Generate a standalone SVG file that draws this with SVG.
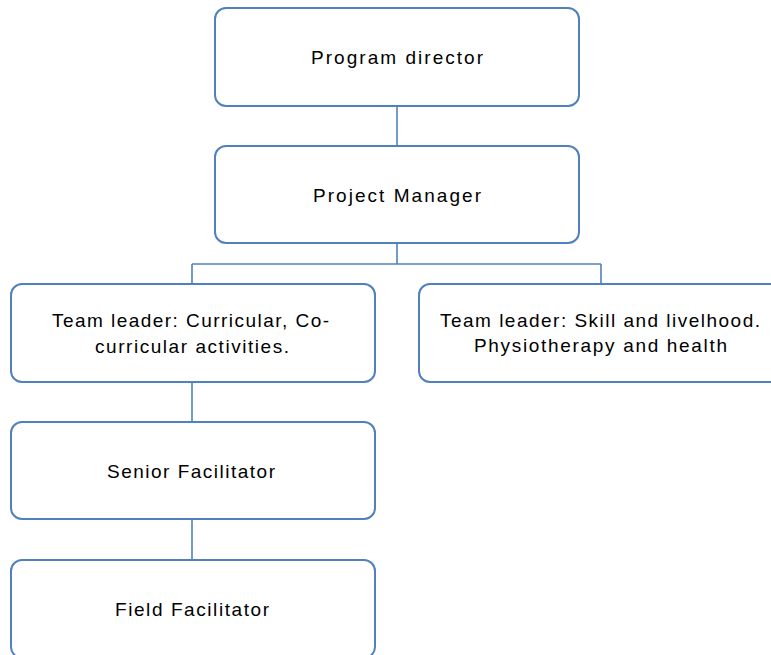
<svg xmlns="http://www.w3.org/2000/svg" width="771" height="655" viewBox="0 0 771 655">
  <style>
    .box { fill: #ffffff; stroke: #4f81bd; stroke-width: 2; }
    .link { fill: none; stroke: #4f81bd; stroke-width: 1.6; }
    .label { font-family: "Liberation Sans", Arial, sans-serif; font-size: 19px; fill: #000000; text-anchor: middle; }
  </style>
  <rect width="771" height="655" fill="#ffffff"/>

  <!-- connectors -->
  <g id="connectors">
    <path class="link" d="M397 106 V146"/>
    <path class="link" d="M397 243 V264 M192 264 H601 M192 264 V284 M601 264 V284"/>
    <path class="link" d="M192 382 V422"/>
    <path class="link" d="M192 519 V560"/>
  </g>

  <g id="program-director">
    <rect class="box" x="215" y="8" width="364" height="98" rx="11"/>
    <text class="label" x="397" y="64" textLength="172" lengthAdjust="spacing">Program director</text>
  </g>

  <g id="project-manager">
    <rect class="box" x="215" y="146" width="364" height="97" rx="11"/>
    <text class="label" x="397" y="202" textLength="168" lengthAdjust="spacing">Project Manager</text>
  </g>

  <g id="team-leader-curricular">
    <rect class="box" x="11" y="284" width="364" height="98" rx="11"/>
    <text class="label" x="190.5" y="327" textLength="277" lengthAdjust="spacing">Team leader: Curricular, Co-</text>
    <text class="label" x="192" y="353" textLength="194" lengthAdjust="spacing">curricular activities.</text>
  </g>

  <g id="team-leader-skill">
    <rect class="box" x="419" y="284" width="364" height="98" rx="11"/>
    <text class="label" x="600" y="327" textLength="320" lengthAdjust="spacing">Team leader: Skill and livelhood.</text>
    <text class="label" x="600.5" y="352" textLength="253" lengthAdjust="spacing">Physiotherapy and health</text>
  </g>

  <g id="senior-facilitator">
    <rect class="box" x="11" y="422" width="364" height="97" rx="11"/>
    <text class="label" x="191" y="478" textLength="168" lengthAdjust="spacing">Senior Facilitator</text>
  </g>

  <g id="field-facilitator">
    <rect class="box" x="11" y="560" width="364" height="98" rx="11"/>
    <text class="label" x="192" y="616" textLength="154" lengthAdjust="spacing">Field Facilitator</text>
  </g>
</svg>
